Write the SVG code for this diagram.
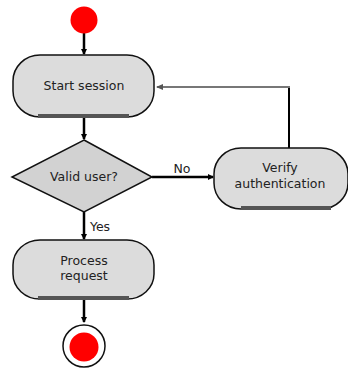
<svg xmlns="http://www.w3.org/2000/svg" width="348" height="368" viewBox="0 0 348 368">
<style>
.node{fill:#dcdcdc;stroke:#111;stroke-width:1.5}
.dia{fill:#d2d2d2;stroke:#111;stroke-width:1.5}
.shadow{stroke:#555;stroke-width:4}
.lbl{font-family:"DejaVu Sans",sans-serif;font-size:12.5px;fill:#222;text-anchor:middle}
.edge{stroke:#000;stroke-width:2.5;fill:none}
.loop{stroke:#777;stroke-width:2;fill:none}
</style>
<defs>
<marker id="ah" markerWidth="6" markerHeight="6" refX="5" refY="3" orient="auto" markerUnits="userSpaceOnUse">
<path d="M0,0 L6,3 L0,6 z" fill="#000"/>
</marker>
<marker id="ahg" markerWidth="7" markerHeight="6" refX="6" refY="3" orient="auto" markerUnits="userSpaceOnUse">
<path d="M0,0 L7,3 L0,6 z" fill="#555"/>
</marker>
</defs>
<g id="connectors">
<line class="edge" x1="84" y1="33" x2="84" y2="54" marker-end="url(#ah)"/>
<line class="edge" x1="84" y1="118" x2="84" y2="139" marker-end="url(#ah)"/>
<line class="edge" x1="152" y1="177" x2="213" y2="177" marker-end="url(#ah)"/>
<line class="edge" x1="84" y1="212" x2="84" y2="239" marker-end="url(#ah)"/>
<line class="edge" x1="84" y1="300" x2="84" y2="322" marker-end="url(#ah)"/>
<line x1="289" y1="148" x2="289" y2="87" stroke="#000" stroke-width="2"/>
<line class="loop" x1="290" y1="87" x2="157" y2="87" marker-end="url(#ahg)"/>
<text class="lbl" x="182" y="173">No</text>
<text class="lbl" x="100" y="231">Yes</text>
</g>
<g id="start">
<circle cx="84" cy="20" r="13.5" fill="#f00"/>
</g>
<g id="start-session">
<rect class="node" x="13" y="55" width="141" height="62" rx="27" ry="26"/>
<line class="shadow" x1="38" y1="116" x2="129" y2="116"/>
<text class="lbl" x="84" y="90">Start session</text>
</g>
<g id="valid-user">
<polygon class="dia" points="84,140 152,177 84,212 12,177"/>
<text class="lbl" x="84" y="181">Valid user?</text>
</g>
<g id="verify">
<rect class="node" x="214" y="148" width="134" height="61" rx="27" ry="26"/>
<line class="shadow" x1="241" y1="208" x2="331" y2="208"/>
<text class="lbl" x="280" y="172">Verify</text>
<text class="lbl" x="280" y="188">authentication</text>
</g>
<g id="process-request">
<rect class="node" x="13" y="240" width="141" height="59" rx="27" ry="25"/>
<line class="shadow" x1="38" y1="298" x2="129" y2="298"/>
<text class="lbl" x="84" y="265">Process</text>
<text class="lbl" x="84" y="280">request</text>
</g>
<g id="end">
<circle cx="84" cy="346" r="21" fill="#fff" stroke="#111" stroke-width="1.5"/>
<circle cx="84" cy="347" r="14.5" fill="#f00"/>
</g>
</svg>
